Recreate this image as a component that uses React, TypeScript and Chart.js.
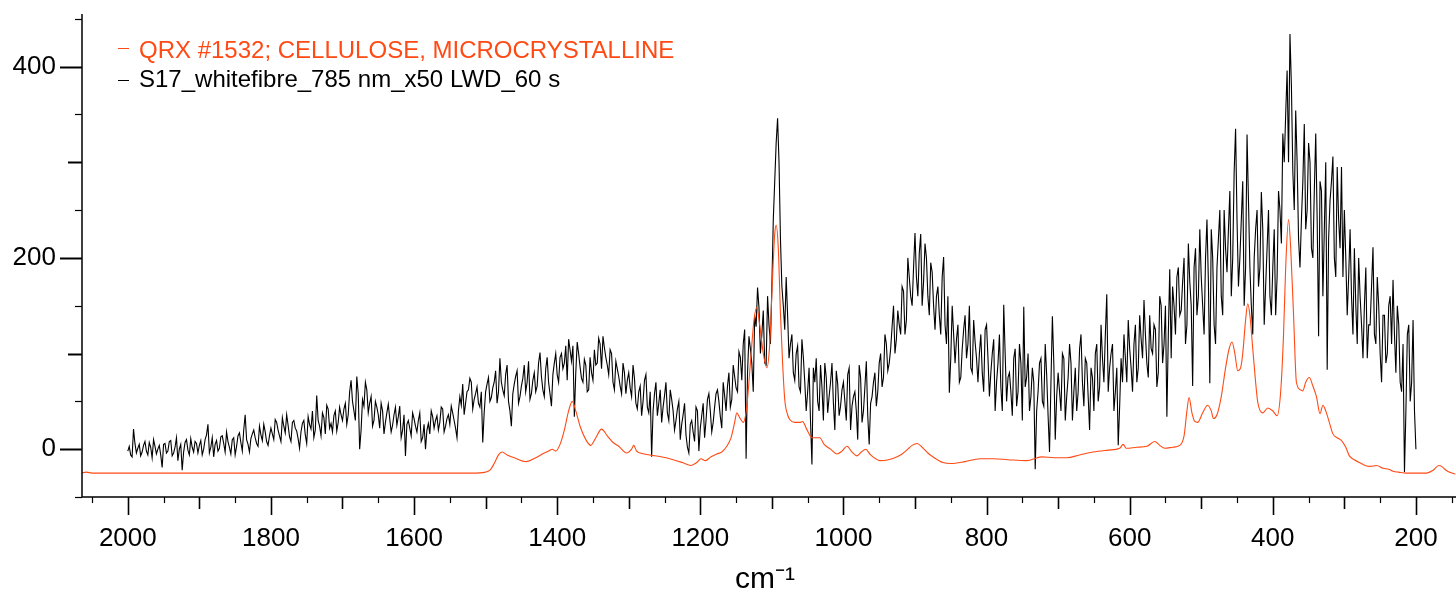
import React, { useEffect, useRef } from 'react';
import { Chart, registerables } from 'chart.js';

Chart.register(...registerables);

const RED = '#ff4a14';
const FONT = '"Liberation Sans", Arial, Helvetica, sans-serif';

const legendLabels = ['QRX #1532; CELLULOSE, MICROCRYSTALLINE', 'S17_whitefibre_785 nm_x50 LWD_60 s'];
const xTickLabels = [2000, 1800, 1600, 1400, 1200, 1000, 800, 600, 400, 200];
const yTickLabels = [0, 200, 400];
const xTitle = 'cm\u207B\u00B9';
const xMin = 144;
const xMax = 2064;
const yMin = -50;
const yMax = 455;

// Reference spectrum (cellulose), wavenumber descending
const redX = [
  2065, 2058, 2050, 1900, 1800, 1700, 1600, 1520, 1500, 1494, 1488, 1482, 1477, 1470, 1460, 1443, 1430, 1418, 1410, 1407,
  1402, 1396, 1390, 1384, 1379, 1374, 1368, 1360, 1353, 1346, 1338, 1330, 1322, 1314, 1303, 1296, 1293, 1289, 1284, 1271,
  1255, 1238, 1225, 1213, 1205, 1199, 1193, 1185, 1177, 1170, 1163, 1157, 1152, 1149, 1145, 1140, 1135, 1130, 1125, 1121,
  1117, 1112, 1107, 1103, 1099, 1096, 1094, 1091, 1088, 1085, 1082, 1078, 1075, 1068, 1061, 1057, 1052, 1044, 1038, 1033,
  1027, 1018, 1009, 1002, 995, 988, 981, 975, 969, 962, 955, 949, 937, 925, 918, 910, 904, 897, 890, 882,
  875, 861, 850, 830, 809, 790, 770, 744, 723, 705, 688, 670, 651, 630, 614, 609, 605, 590, 576, 565,
  558, 551, 540, 530, 524, 520, 517, 513, 509, 505, 498, 491, 486, 483, 478, 472, 466, 461, 457, 453,
  449, 445, 442, 438, 435, 432, 428, 424, 421, 414, 407, 400, 394, 389, 385, 382, 378, 375, 371, 367,
  361, 358, 354, 349, 344, 339, 334, 330, 326, 321, 316, 310, 304, 298, 293, 286, 279, 271, 264, 255,
  246, 238, 232, 224, 213, 200, 185, 176, 168, 164, 158, 150, 145
];
const redY = [
  -25, -24, -25, -25, -25, -25, -25, -25, -24, -22, -15, -6, -3, -6, -9, -13, -9, -4, -1, 0,
  -2, 5, 20, 40, 50, 40, 24, 10, 4, 12, 21, 14, 7, 3, -4, 0, 4, -2, -4, -6,
  -8, -11, -14, -17, -14, -10, -12, -8, -5, -3, 3, 12, 28, 38, 33, 28, 45, 90, 135, 148,
  130, 100, 85, 110, 180, 225, 234, 210, 142, 90, 52, 36, 31, 28, 28, 29, 22, 12, 12, 12,
  5, 0, -5, -2, 3, -3, -7, -3, 0, -6, -10, -12, -11, -8, -5, 0, 4, 6, 2, -4,
  -8, -14, -15, -13, -10, -10, -11, -12, -8, -9, -9, -6, -3, -1, 1, 5, 1, 2, 3, 8,
  4, 1, 2, 4, 14, 40, 54, 38, 29, 28, 38, 46, 40, 32, 36, 55, 85, 105, 112, 100,
  82, 85, 100, 135, 152, 140, 105, 70, 49, 38, 43, 40, 35, 60, 120, 190, 240, 210, 140, 70,
  62, 61, 70, 75, 66, 55, 37, 46, 40, 28, 16, 12, 9, 2, -7, -11, -14, -17, -18, -17,
  -20, -21, -23, -24, -25, -25, -25, -22, -17, -18, -22, -25, -26
];

// Sample spectrum: values at 2000, 1996, ..., 200 cm-1
const blackStart = 2000;
const blackStep = 4;
const blackY = [
  // 2000 - 1904
  -2, -6, 21, -4, 5, -3, 8, -6, 2, 10, -5, 4, -19, 6, -2, 9, -4, 12, 0, -22, 7, -1, 11, -3, 6,
  // 1900 - 1804
  4, -6, 10, 26, 2, -8, 9, 1, 14, -3, 8, -5, 12, 3, 17, -2, 36, 5, 11, 20, 6, 24, 9, 18, 4,
  // 1800 - 1704
  22, 10, 28, 14, 33, 17, 25, 8, 30, 19, 1, 27, 15, 34, 21, 12, 56, 24, 38, 16, 42, 27, 35, 19, 44,
  // 1700 - 1604
  30, 48, 36, 72, 40, 76, 0, 52, 70, 38, 55, 30, 44, 22, 40, 28, 47, 18, 36, 25, 45, 20, -7, 30, 14,
  // 1600 - 1504
  32, 18, 38, 12, 0, 27, 40, 22, 35, 28, 42, 24, 36, 45, 30, 12, 55, 68, 48, 62, 70, 52, 65, 44, 7,
  // 1500 - 1404
  60, 75, 54, 70, 48, 95, 62, 78, 50, 24, 68, 82, 55, 74, 60, 92, 58, 80, 66, 101, 62, 84, 70, 45, 90,
  // 1400 - 1304
  78, 96, 84, 108, 115, 92, 34, 112, 86, 70, 88, 62, 80, 104, 90, 110, 118, 96, 78, 100, 62, 84, 66, 90, 58,
  // 1300 - 1204
  80, 55, 74, 42, 66, 50, 78, 38, -8, 58, 35, 62, 44, 70, 30, 52, 20, 42, 10, 36, 15, -4, 30, 8, 40,
  // 1200 - 1104
  22, 48, 30, 58, 18, 44, 62, 34, 70, 40, 80, 52, 76, 60, 96, 110, -10, 118, 90, 140, 169, 100, 145, 88, 130,
  // 1100 - 1004
  170, 280, 346, 220, 150, 180, 95, 120, 72, 108, 60, 96, 40, 85, -16, 70, 50, 88, 30, 75, 55, 90, 20, 68, 45,
  // 1000 - 904
  70, 30, 85, 45, 60, 10, 75, 40, 92, 5, 55, 80, 60, 100, 75, 110, 90, 128, 100, 145, 120, 165, 135, 180, 150,
  // 900 - 804
  226, 160, 225, 175, 200, 140, 185, 125, 170, 120, 201, 110, 59, 150, 90, 130, 75, 125, 95, 150, 80, 112, 70, 120, 60,
  // 800 - 704
  130, 55, 100, 40, 90, 65, 151, 50, 80, 35, 105, 60, 90, 149, 75, 40, 85, -21, 60, 95, 45, 78, -3, 139, 10,
  // 700 - 604
  80, 40, 95, 55, 110, 30, 85, 60, 120, 45, 90, 20, 75, 100, 50, 130, 70, 162, 85, 110, 60, 4, 95, 120, 70,
  // 600 - 504
  105, 60, 130, 85, 115, 156, 90, 140, 100, 125, 80, 150, 110, 34, 188, 170, 120, 190, 145, 200, 130, 175, 66, 210, 160,
  // 500 - 404
  180, 120, 240, 69, 200, 110, 220, 160, 250, 185, 270, 200, 335, 170, 240, 150, 329, 190, 120, 230, 170, 269, 130, 210, 160,
  // 400 - 304
  190, 140, 270, 215, 300, 396, 434, 290, 354, 220, 240, 340, 250, 300, 200, 330, 118, 270, 230, 83, 260, 306, 180, 240, 295,
  // 300 - 200
  250, 140, 230, 120, 150, 200, 130, 150, 95, 130, 211, 110, 150, 70, 140, 100, 160, 177, 80, 130, 60, -24, 120, 50, 135, 0
];
// Sample spectrum: values at 1998, 1994, ..., 202 cm-1
const blackYMid = [
  // 1998 - 1902
  3, -8, 6, 1, -7, 4, -2, 7, -9, 3, 0, -6, 5, -4, 8, -7, 2, -12, 5, -3, 10, -6, 2, 8, -4,
  // 1898 - 1802
  9, 0, 15, -4, 12, 5, -2, 13, 6, 18, 2, 10, -6, 14, 7, 20, 10, -3, 16, 12, 3, 15, 26, 8, 14,
  // 1798 - 1702
  16, 31, 20, 8, 24, 36, 13, 28, 22, 11, 18, 30, 6, 26, 40, 20, 30, 14, 33, 46, 22, 18, 40, 28, 36,
  // 1698 - 1602
  42, 26, 60, 50, 30, 58, 20, 45, 62, 48, 24, 50, 36, 48, 16, 38, 32, 25, 44, 34, 12, 36, 26, 22, 38,
  // 1598 - 1502
  24, 30, 8, 26, 20, 16, 34, 30, 20, 44, 18, 32, 26, 38, 22, 40, 46, 36, 60, 74, 42, 58, 48, 60, 38,
  // 1498 - 1402
  68, 50, 64, 82, 60, 70, 56, 88, 40, 58, 76, 48, 66, 88, 70, 52, 72, 60, 90, 76, 55, 96, 58, 78, 100,
  // 1398 - 1302
  70, 100, 90, 72, 104, 108, 80, 100, 74, 94, 60, 96, 72, 88, 116, 84, 106, 88, 104, 70, 92, 76, 58, 80, 72,
  // 1298 - 1202
  64, 88, 48, 60, 35, 72, 44, 60, 40, 70, 48, 28, 56, 38, 62, 40, 30, 50, 26, 48, 2, 26, 18, 44, -2,
  // 1198 - 1102
  35, 12, 52, 40, 28, 58, 50, 22, 56, 66, 44, 88, 64, 102, 72, 125, 80, 105, 60, 128, 148, 120, 90, 160, 110,
  // 1098 - 1002
  240, 320, 300, 170, 125, 140, 110, 80, 100, 65, 115, 70, 60, 30, 85, 95, 40, 65, 90, 38, 70, 48, 82, 35, 62,
  // 998 - 902
  50, 78, 20, 55, 40, 88, 28, 65, 35, 48, 70, 45, 90, 65, 120, 82, 105, 150, 115, 130, 170, 120, 200, 160, 190,
  // 898 - 802
  180, 205, 150, 215, 160, 195, 150, 160, 140, 180, 130, 160, 95, 120, 115, 70, 105, 140, 110, 85, 135, 95, 100, 80, 125,
  // 798 - 702
  95, 80, 115, 70, 120, 40, 100, 75, 60, 95, 45, 110, 30, 65, 100, 55, 70, 40, 90, 50, 110, 35, 70, 90, 55,
  // 698 - 602
  60, 100, 30, 75, 90, 60, 40, 105, 70, 95, 55, 85, 40, 110, 65, 95, 120, 60, 100, 40, 85, 45, 70, 95, 135,
  // 598 - 502
  85, 110, 70, 140, 95, 120, 75, 105, 130, 65, 160, 90, 150, 120, 95, 150, 180, 140, 175, 110, 215, 150, 190, 140, 230,
  // 498 - 402
  150, 200, 175, 230, 130, 190, 250, 140, 210, 230, 160, 290, 240, 200, 280, 190, 260, 150, 200, 250, 190, 230, 170, 250, 140,
  // 398 - 302
  230, 180, 250, 330, 350, 300, 380, 250, 300, 190, 280, 230, 320, 210, 270, 240, 280, 160, 300, 220, 280, 200, 295, 210, 180,
  // 298 - 202
  200, 180, 160, 210, 110, 160, 95, 190, 130, 170, 120, 180, 100, 140, 90, 150, 110, 120, 150, 70, 110, 40, 130, 70, 40
];

const decorPlugin = {
  id: 'decor',
  afterDraw(chart: any) {
    const { ctx, chartArea, scales } = chart;
    const xs = scales.x;
    const ys = scales.y;
    const L = chartArea.left;
    const B = chartArea.bottom;
    ctx.save();
    ctx.strokeStyle = '#000';
    ctx.lineCap = 'butt';
    ctx.lineWidth = 1.5;
    ctx.beginPath();
    ctx.moveTo(L, chartArea.top);
    ctx.lineTo(L, B);
    ctx.moveTo(L, B);
    ctx.lineTo(chartArea.right, B);
    ctx.stroke();

    for (let v = -50; v <= 450; v += 50) {
      const py = Math.round(ys.getPixelForValue(v)) + 0.5;
      const len = v % 200 === 0 ? 22 : v % 100 === 0 ? 14 : 7;
      ctx.lineWidth = len === 7 ? 1.2 : 2;
      ctx.beginPath();
      ctx.moveTo(L - len, py);
      ctx.lineTo(L, py);
      ctx.stroke();
    }
    for (let v = 2050; v >= 150; v -= 50) {
      const px = Math.round(xs.getPixelForValue(v)) + 0.5;
      const len = v % 200 === 0 ? 18 : v % 100 === 0 ? 12 : 6;
      ctx.lineWidth = len === 6 ? 1.2 : 1.6;
      ctx.beginPath();
      ctx.moveTo(px, B);
      ctx.lineTo(px, B + len);
      ctx.stroke();
    }

    // legend
    const colors = [RED, '#000'];
    const markerY = [48, 80];
    const baseY = [58, 87];
    ctx.font = `24px ${FONT}`;
    ctx.textBaseline = 'alphabetic';
    ctx.textAlign = 'left';
    for (let i = 0; i < legendLabels.length; i++) {
      ctx.strokeStyle = colors[i];
      ctx.lineWidth = 1;
      ctx.beginPath();
      ctx.moveTo(118, markerY[i] + 0.5);
      ctx.lineTo(129, markerY[i] + 0.5);
      ctx.stroke();
      ctx.fillStyle = colors[i];
      ctx.fillText(legendLabels[i], 139, baseY[i]);
    }

    // x title
    ctx.fillStyle = '#000';
    ctx.font = `30px ${FONT}`;
    ctx.textAlign = 'center';
    ctx.fillText(xTitle, (chartArea.left + chartArea.right) / 2 - 4, 588);
    ctx.restore();
  },
};

export default function App() {
  const canvasRef = useRef<HTMLCanvasElement | null>(null);

  useEffect(() => {
    document.body.style.margin = '0';
    const canvas = canvasRef.current;
    if (!canvas) return;
    const redData = redX.map((x, i) => ({ x, y: redY[i] }));
    const blackData: { x: number; y: number }[] = [];
    for (let i = 0; i < blackY.length; i++) {
      blackData.push({ x: blackStart - i * blackStep, y: blackY[i] });
      if (i < blackYMid.length) {
        blackData.push({ x: blackStart - i * blackStep - blackStep / 2, y: blackYMid[i] });
      }
    }

    const chart = new Chart(canvas, {
      type: 'line',
      data: {
        datasets: [
          {
            label: legendLabels[0],
            data: redData,
            borderColor: RED,
            borderWidth: 1.1,
            pointRadius: 0,
            cubicInterpolationMode: 'monotone',
            fill: false,
          },
          {
            label: legendLabels[1],
            data: blackData,
            borderColor: '#000',
            borderWidth: 1.1,
            pointRadius: 0,
            tension: 0,
            fill: false,
          },
        ],
      },
      options: {
        animation: false,
        responsive: true,
        maintainAspectRatio: false,
        layout: { autoPadding: false, padding: { top: 14, right: 0, left: 0, bottom: 0 } },
        plugins: {
          legend: { display: false },
          tooltip: { enabled: false },
        },
        scales: {
          x: {
            type: 'linear',
            reverse: true,
            min: xMin,
            max: xMax,
            grid: { display: false, drawTicks: false },
            border: { display: false },
            ticks: {
              color: '#000',
              font: { family: FONT, size: 26 },
              padding: 26,
              maxRotation: 0,
              autoSkip: false,
              callback: (v: any) => String(v),
            },
            afterBuildTicks: (s: any) => {
              s.ticks = xTickLabels.map((v) => ({ value: v }));
            },
            afterFit: (s: any) => {
              s.height = 95;
              s.paddingLeft = 0;
              s.paddingRight = 0;
            },
          },
          y: {
            type: 'linear',
            min: yMin,
            max: yMax,
            grid: { display: false, drawTicks: false },
            border: { display: false },
            ticks: {
              color: '#000',
              font: { family: FONT, size: 26 },
              padding: 26,
              callback: (v: any) => String(v),
            },
            afterBuildTicks: (s: any) => {
              s.ticks = yTickLabels.map((v) => ({ value: v }));
            },
            afterFit: (s: any) => {
              s.width = 82;
              s.paddingTop = 0;
              s.paddingBottom = 0;
            },
          },
        },
      },
      plugins: [decorPlugin],
    });
    return () => chart.destroy();
  }, []);

  return (
    <div style={{ width: '1456px', height: '592px', position: 'relative' }}>
      <canvas ref={canvasRef} />
    </div>
  );
}
